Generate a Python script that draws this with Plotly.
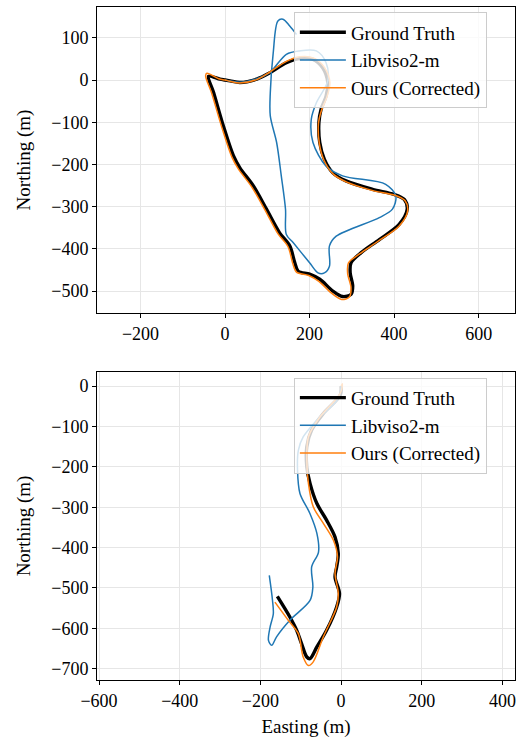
import plotly.graph_objects as go
from plotly.subplots import make_subplots

# ---------------- Top sequence ----------------
top_gt_x = [0, 12, 35, 75, 106, 145, 176, 208, 231, 243, 239, 227, 222, 224, 235, 255, 286, 349, 400, 424, 431, 412, 365, 322, 298, 296, 302, 298, 278, 255, 224, 200, 173, 165, 153, 129, 98, 67, 35, 20, -4, -27, -39, -12, 0]
top_gt_y = [0, -2, -6, 2, 17, 41, 51, 49, 29, -6, -38, -70, -101, -148, -188, -220, -239, -259, -271, -283, -306, -342, -378, -409, -433, -457, -488, -508, -513, -500, -472, -460, -453, -433, -393, -362, -306, -251, -208, -180, -109, -30, 9, 2, 0]

top_lv_x = [0, 35, 75, 106, 145, 176, 216, 239, 243, 216, 204, 208, 239, 278, 380, 404, 396, 365, 263, 247, 247, 235, 220, 200, 161, 145, 143, 133, 122, 107, 107, 114, 125, 137, 153, 169]
top_lv_y = [0, -5, 3, 18, 61, 69, 69, 41, -2, -54, -93, -148, -204, -227, -247, -275, -306, -326, -370, -393, -441, -457, -457, -433, -385, -366, -306, -227, -148, -85, -30, 65, 140, 144, 128, 108]

top_our_x = [0, 12, 35, 75, 106, 145, 176, 210, 235, 248, 241, 228, 221, 223, 234, 256, 288, 350, 402, 426, 432, 412, 362, 318, 292, 290, 298, 294, 276, 252, 222, 198, 169, 160, 149, 125, 94, 63, 31, 16, -8, -32, -46, -43, -15, 0]
top_our_y = [0, -3, -7, 1, 19, 44, 55, 52, 30, -6, -40, -72, -103, -150, -190, -223, -242, -262, -273, -286, -310, -346, -382, -412, -433, -458, -492, -514, -520, -505, -477, -463, -455, -434, -395, -364, -307, -253, -210, -182, -111, -30, 10, 16, 3, 0]

# ---------------- Bottom sequence ----------------
bot_gt_x = [0, -2, -44, -73, -85, -85, -77, -60, -36, -15, -7, -11, -15, -4, -11, -36, -60, -77, -85, -98, -110, -127, -158]
bot_gt_y = [0, -22, -68, -109, -150, -200, -241, -291, -332, -374, -415, -448, -473, -514, -547, -605, -646, -675, -671, -638, -605, -572, -521]

bot_lv_x = [0, -7, -60, -94, -106, -108, -102, -77, -60, -56, -73, -70, -77, -127, -160, -172, -180, -176, -168, -170, -178]
bot_lv_y = [0, -31, -84, -126, -159, -208, -266, -316, -365, -411, -448, -498, -531, -580, -621, -642, -630, -597, -564, -531, -469]

bot_our_x = [0, 3, 1, -8, -52, -81, -85, -81, -69, -44, -19, -9, -15, -7, -11, -44, -69, -81, -94, -106, -131, -164]
bot_our_y = [0, 6, -10, -27, -76, -126, -183, -241, -299, -340, -382, -423, -464, -514, -547, -621, -683, -692, -671, -613, -580, -535]

top_xticks = [-200, 0, 200, 400, 600]
top_yticks = [-500, -400, -300, -200, -100, 0, 100]
bot_xticks = [-600, -400, -200, 0, 200, 400]
bot_yticks = [-700, -600, -500, -400, -300, -200, -100, 0]

names = ["Ground Truth", "Libviso2-m", "Ours (Corrected)"]
colors = ["#000000", "#1f77b4", "#ff7f0e"]
widths = [3.4, 1.5, 1.5]

def lab(v):
    return str(v).replace("-", "\u2212")

FONT = "Liberation Serif"

fig = make_subplots(rows=2, cols=1)
series = [
    (1, "legend", [(top_gt_x, top_gt_y), (top_lv_x, top_lv_y), (top_our_x, top_our_y)]),
    (2, "legend2", [(bot_gt_x, bot_gt_y), (bot_lv_x, bot_lv_y), (bot_our_x, bot_our_y)]),
]
for row, leg, data in series:
    for i, (xs, ys) in enumerate(data):
        fig.add_trace(go.Scatter(x=xs, y=ys, mode="lines", name=names[i],
                                 line=dict(color=colors[i], width=widths[i], shape="spline", smoothing=0.9),
                                 legend=leg, showlegend=True), row=row, col=1)

axis_common = dict(showline=True, linecolor="black", linewidth=1, mirror=True,
                   ticks="outside", ticklen=4, tickcolor="black", automargin=False,
                   showgrid=True, gridcolor="#e6e6e6", gridwidth=1, zeroline=False,
                   tickfont=dict(family=FONT, size=18, color="black"))

fig.update_xaxes(axis_common)
fig.update_yaxes(axis_common)

legend_common = dict(xanchor="left", yanchor="top", tracegroupgap=0,
                     bgcolor="rgba(255,255,255,0.8)", bordercolor="#cccccc", borderwidth=1,
                     font=dict(family=FONT, size=19, color="black"), itemwidth=46)

fig.update_layout(
    width=521, height=738,
    margin=dict(l=97, r=6, t=7, b=58),
    paper_bgcolor="white", plot_bgcolor="white",
    font=dict(family=FONT, size=18, color="black"),
    xaxis=dict(domain=[0, 1], range=[-303, 686], tickvals=top_xticks, ticktext=[lab(v) for v in top_xticks]),
    yaxis=dict(domain=[0.5453, 1.0], range=[-552, 173], tickvals=top_yticks, ticktext=[lab(v) for v in top_yticks],
               title=dict(text="Northing (m)", font=dict(family=FONT, size=19))),
    xaxis2=dict(domain=[0, 1], range=[-605, 431], tickvals=bot_xticks, ticktext=[lab(v) for v in bot_xticks],
                title=dict(text="Easting (m)", font=dict(family=FONT, size=19))),
    yaxis2=dict(domain=[0, 0.4577], range=[-728, 35], tickvals=bot_yticks, ticktext=[lab(v) for v in bot_yticks],
                title=dict(text="Northing (m)", font=dict(family=FONT, size=19))),
    legend=dict(x=0.471, y=0.992, **legend_common),
    legend2=dict(x=0.471, y=0.449, **legend_common),
)

fig.write_html("out.html", config={"displayModeBar": False},
               post_script="document.body.style.margin='0px';")
